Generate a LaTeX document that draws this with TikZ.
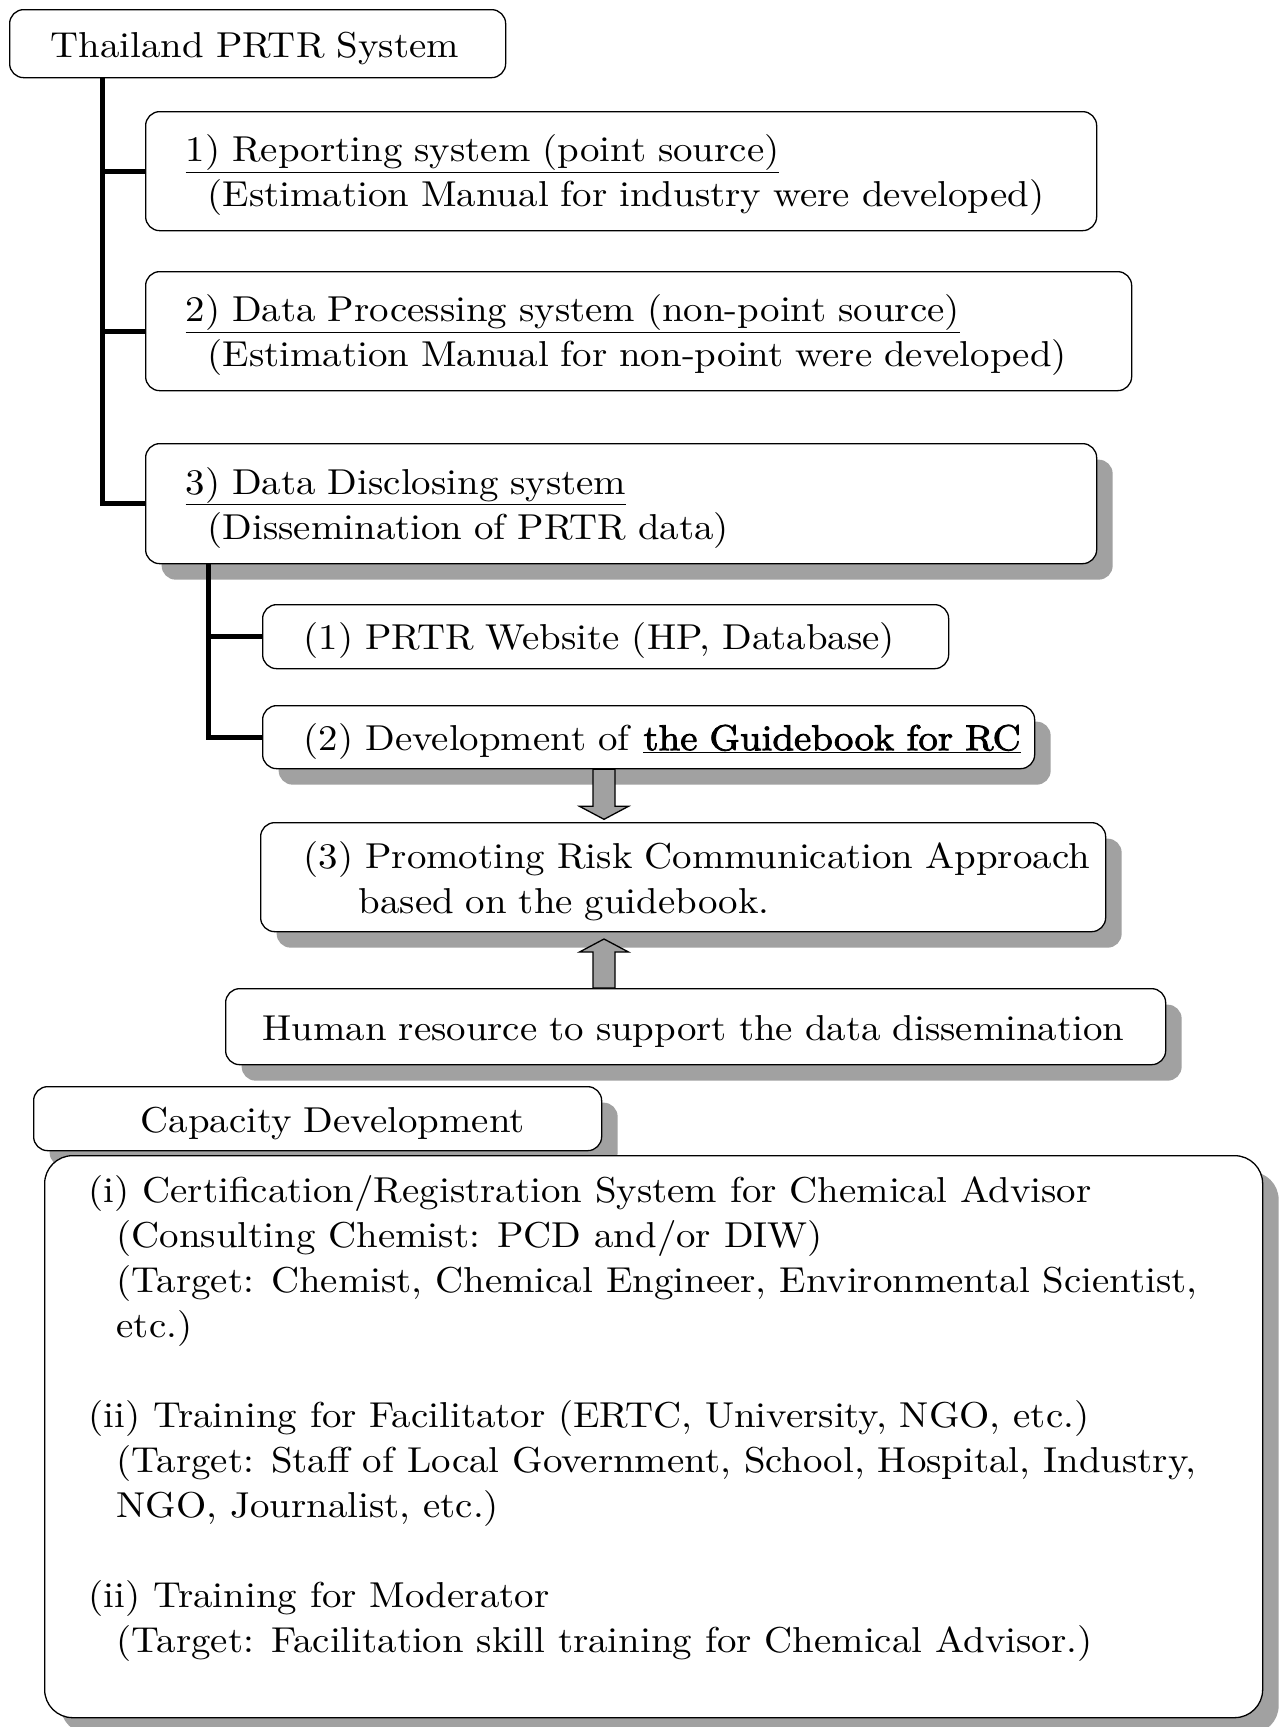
\documentclass[tikz,border=0pt]{standalone}
\usepackage{fontspec}
\setmainfont{lmroman10-regular.otf}[FakeStretch=1.08, AutoFakeBold=2.2]
\usetikzlibrary{shadows}
\tikzset{
  box/.style={draw, line width=1.3pt, rounded corners=14pt, fill=white,
    anchor=north west, align=left, inner ysep=0pt,
    font=\fontsize{36}{45}\selectfont,
    execute at begin node={\rule{0pt}{35pt}}},
  shad/.style={drop shadow={shadow xshift=16pt, shadow yshift=-16pt, fill=black!37, opacity=1}},
  conn/.style={line width=5pt},
  blockarrow/.style={fill=black!37, draw=black, line width=1.3pt, line join=miter},
}
\begin{document}
\begin{tikzpicture}[x=1pt,y=-1pt]
\useasboundingbox[fill=white] (0,0) rectangle (1280,1727);

\node[box, text width=414pt, inner xsep=41pt, minimum height=68pt] (title) at (9,9)
  {\mbox{Thailand PRTR System}};

\node[box, text width=871pt, inner xsep=40pt, minimum height=119pt] (box1) at (145,111)
  {\mbox{\underline{1) Reporting system (point source)}}\\
   \hspace*{22pt}\mbox{(Estimation Manual for industry were developed)}};

\node[box, text width=906pt, inner xsep=40pt, minimum height=119pt] (box2) at (145,271)
  {\mbox{\underline{2) Data Processing system (non-point source)}}\\
   \hspace*{22pt}\mbox{(Estimation Manual for non-point were developed)}};

\node[box, shad, text width=871pt, inner xsep=40pt, minimum height=120pt] (box3) at (145,443)
  {\mbox{\underline{3) Data Disclosing system}}\\
   \hspace*{22pt}\mbox{(Dissemination of PRTR data)}};

\node[box, text width=604pt, inner xsep=41pt, minimum height=64pt] (w1) at (262,604)
  {\mbox{(1) PRTR Website (HP, Database)}};

\node[box, shad, text width=690pt, inner xsep=41pt, minimum height=63pt] (w2) at (262,705)
  {\mbox{(2) Development of \textbf{\underline{the Guidebook for RC}}}};

\node[box, shad, text width=759pt, inner xsep=43pt, minimum height=109pt] (rc) at (260,822)
  {\mbox{(3) Promoting Risk Communication Approach}\\
   \hspace*{55pt}\mbox{based on the guidebook.}};

\node[box, shad, text width=866pt, inner xsep=37pt, minimum height=76pt] (human) at (225,988)
  {\mbox{Human resource to support the data dissemination}};

\node[box, shad, text width=354pt, inner xsep=107pt, minimum height=64pt] (cap) at (33,1086)
  {\mbox{Capacity Development}};

\node[draw, line width=1.3pt, rounded corners=28pt, fill=white, shad, anchor=north west,
      inner xsep=44pt, inner ysep=8pt] (big) at (44,1155)
  {\begin{minipage}[t][546pt][t]{1130pt}
   \fontsize{36}{45}\selectfont\raggedright\parindent=0pt
   \vspace*{12pt}
   \mbox{(i) Certification/Registration System for Chemical Advisor}\\
   \hspace*{28pt}\mbox{(Consulting Chemist: PCD and/or DIW)}\\
   \hspace*{28pt}\mbox{(Target: Chemist, Chemical Engineer, Environmental Scientist,}\\
   \hspace*{28pt}\mbox{etc.)}\\[45pt]
   \mbox{(ii) Training for Facilitator (ERTC, University, NGO, etc.)}\\
   \hspace*{28pt}\mbox{(Target: Staff of Local Government, School, Hospital, Industry,}\\
   \hspace*{28pt}\mbox{NGO, Journalist, etc.)}\\[45pt]
   \mbox{(ii) Training for Moderator}\\
   \hspace*{28pt}\mbox{(Target: Facilitation skill training for Chemical Advisor.)}
   \end{minipage}};

% tree connectors
\coordinate (trunk) at ([xshift=93pt]title.south west);
\draw[conn] (trunk) |- (box3.west);
\draw[conn] (trunk |- box1.west) -- (box1.west);
\draw[conn] (trunk |- box2.west) -- (box2.west);

\coordinate (sub) at ([xshift=63pt]box3.south west);
\draw[conn] (sub) |- (w2.west);
\draw[conn] (sub |- w1.west) -- (w1.west);

% block arrows
\coordinate (da) at ([xshift=342pt]w2.south west);
\draw[blockarrow] ([xshift=-11pt]da) -- ++(0,37) -- ++(-13.5,0) -- ++(24.5,13)
  -- ++(24.5,-13) -- ++(-13.5,0) -- ++(0,-37) -- cycle;

\coordinate (ua) at ([xshift=379pt]human.north west);
\draw[blockarrow] ([xshift=-11pt]ua) -- ++(0,-36) -- ++(-13.5,0) -- ++(24.5,-13)
  -- ++(24.5,13) -- ++(-13.5,0) -- ++(0,36) -- cycle;
\end{tikzpicture}
\end{document}
